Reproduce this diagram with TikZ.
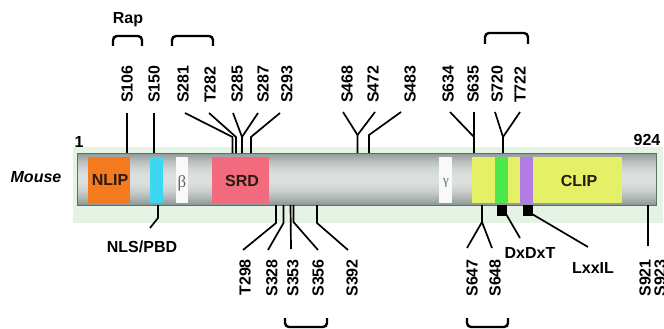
\documentclass[tikz,border=0pt]{standalone}
\usepackage{fontspec}
\setmainfont{Liberation Sans}
\newfontfamily\grkfont{Liberation Serif}
\definecolor{mint}{HTML}{E4F3E4}
\definecolor{barA}{HTML}{8E9896}
\definecolor{barB}{HTML}{DCE0DF}
\definecolor{barEdge}{HTML}{5E706A}
\definecolor{nlipc}{HTML}{F47A1E}
\definecolor{nlsc}{HTML}{3CD8F2}
\definecolor{srdc}{HTML}{F26A7E}
\definecolor{clipc}{HTML}{E4F066}
\definecolor{dxgc}{HTML}{4CE84C}
\definecolor{lxpc}{HTML}{B27EE6}
\definecolor{domtext}{HTML}{2A1A10}
\begin{document}
\begin{tikzpicture}[x=1pt,y=-1pt,
  lbl/.style={font=\fontsize{16}{18}\selectfont\bfseries, inner sep=0pt},
  toplbl/.style={lbl, rotate=90, anchor=west},
  botlbl/.style={lbl, rotate=90, anchor=east},
  lead/.style={line width=1.7pt, line join=miter},
  brk/.style={line width=2.4pt, rounded corners=4pt},
  greek/.style={inner sep=0pt, text=black!60}]
\useasboundingbox (0,0) rectangle (664,329);
% background glow and bar
\fill[mint] (73,147) rectangle (663,223);
\foreach \i in {0,...,51} {
  \pgfmathtruncatemacro\p{100-100*((\i-25.5)/25.5)^2}
  \fill[barB!\p!barA] (77,153+\i) rectangle (656,154.3+\i);
}
\node[draw=barEdge, line width=0.8pt, inner sep=0pt, outer sep=0pt,
      minimum width=579pt, minimum height=52pt] (bar) at (366.5,179) {};
% domains
\fill[nlipc] (88,157) rectangle (130,203);
\fill[nlsc] (150,157) rectangle (163,203);
\fill[white!95!gray] (176,157) rectangle (188,203);
\fill[srdc] (212,157) rectangle (269,203);
\fill[white!95!gray] (439,157) rectangle (452,203);
\fill[clipc] (472,157) rectangle (622,203);
\fill[dxgc] (495,157) rectangle (508,203);
\fill[lxpc] (520,157) rectangle (533,203);
% motif boxes
\fill[black] (497,205) rectangle (507,216);
\fill[black] (523,205) rectangle (533,216);
% domain texts
\node[lbl, text=domtext] (nlipt) at (110,180) {NLIP};
\node[lbl, text=domtext] (srdt) at (242,181) {SRD};
\node[lbl, text=domtext] (clipt) at (579,181) {CLIP};
\node[greek, font=\fontsize{17}{18}\selectfont\grkfont] (betat) at (182,183) {β};
\node[greek, font=\fontsize{13}{14}\selectfont\grkfont] (gammat) at (446,183) {γ};
% side texts
\node[lbl, font=\fontsize{16}{18}\selectfont\bfseries\itshape] (mouse) at (36,177) {Mouse};
\node[lbl] (one) at (79,142) {1};
\node[lbl] (end) at (647,140) {924};
\node[lbl] (rap) at (128,20) {Rap};
% top labels
\node[toplbl] (s106) at (127,103) {S106};
\node[toplbl] (s150) at (154,103) {S150};
\node[toplbl] (s281) at (183,103) {S281};
\node[toplbl] (t282) at (210,103) {T282};
\node[toplbl] (s285) at (237,103) {S285};
\node[toplbl] (s287) at (263,103) {S287};
\node[toplbl] (s293) at (287,103) {S293};
\node[toplbl] (s468) at (347,103) {S468};
\node[toplbl] (s472) at (373,103) {S472};
\node[toplbl] (s483) at (410,103) {S483};
\node[toplbl] (s634) at (448,103) {S634};
\node[toplbl] (s635) at (473,103) {S635};
\node[toplbl] (s720) at (497,103) {S720};
\node[toplbl] (t722) at (520,103) {T722};
% bottom labels
\node[botlbl] (t298) at (245,259) {T298};
\node[botlbl] (s328) at (272,259) {S328};
\node[botlbl] (s353) at (293,259) {S353};
\node[botlbl] (s356) at (318,259) {S356};
\node[botlbl] (s392) at (352,259) {S392};
\node[botlbl] (s647) at (472,259) {S647};
\node[botlbl] (s648) at (495,259) {S648};
\node[botlbl] (s921) at (645,259) {S921};
\node[botlbl] (s923) at (660,259) {S923};
\node[lbl] (nls) at (142,247) {NLS/PBD};
\node[lbl] (dxd) at (530,253) {DxDxT};
\node[lbl] (lxx) at (593,268) {LxxIL};
% top leads
\draw[lead] ([yshift=-10pt]s106.west) -- (127,153);
\draw[lead] ([yshift=-10pt]s150.west) -- (154,153);
\draw[lead] ([yshift=-10pt,xshift=2pt]s281.west) -- (232.5,137) -- (232.5,153);
\draw[lead] ([yshift=-10pt,xshift=-1pt]t282.west) -- (236,137) -- (236,153);
\draw[lead] ([yshift=-10pt,xshift=-4pt]s285.west) -- (242,137) -- (242,153);
\draw[lead] ([yshift=-10pt,xshift=-5pt]s287.west) -- (242,137);
\draw[lead] ([yshift=-10pt,xshift=-7pt]s293.west) -- (251,137) -- (251,153);
\draw[lead] ([yshift=-9pt,xshift=-4pt]s468.west) -- (357.5,135) -- (357.5,153);
\draw[lead] ([yshift=-9pt,xshift=2pt]s472.west) -- (357.5,135);
\draw[lead] ([yshift=-9pt,xshift=-9pt]s483.west) -- (369,135) -- (369,153);
\draw[lead] ([yshift=-9pt,xshift=2pt]s634.west) -- (474,137);
\draw[lead] ([yshift=-9pt,xshift=1pt]s635.west) -- (474,153);
\draw[lead] ([yshift=-9pt,xshift=-2pt]s720.west) -- (503,137);
\draw[lead] ([yshift=-9pt]t722.west) -- (503,137) -- (503,153);
% bottom leads
\draw[lead] (276,205) -- (276,223) -- ([yshift=9pt,xshift=-2pt]t298.east);
\draw[lead] (283.5,205) -- (283.5,223) -- ([yshift=9pt,xshift=-4pt]s328.east);
\draw[lead] (290.5,205) -- ([yshift=10pt,xshift=-2pt]s353.east);
\draw[lead] (293.5,205) -- (293.5,222) -- ([yshift=9pt]s356.east);
\draw[lead] (317,205) -- (317,223) -- ([yshift=9pt,xshift=-4pt]s392.east);
\draw[lead] (482,205) -- (482,222) -- ([yshift=11pt,xshift=-5pt]s647.east);
\draw[lead] (482,222) -- ([yshift=11pt,xshift=-3pt]s648.east);
\draw[lead] (648,205) -- ([yshift=13pt,xshift=3pt]s921.east);
\draw[lead] (158,205) -- (158,218) -- ([yshift=19pt,xshift=8pt]nls.center);
\draw[lead] (506,214) -- ([yshift=15pt,xshift=-10pt]dxd.center);
\draw[lead] (532,214) -- ([yshift=21pt,xshift=-5pt]lxx.center);
% brackets
\draw[brk] (113,46) -- (113,36) -- (142,36) -- (142,46);
\draw[brk] (172,46) -- (172,36) -- (213,36) -- (213,46);
\draw[brk] (485,44) -- (485,33) -- (528,33) -- (528,44);
\draw[brk] (285,318) -- (285,327) -- (327,327) -- (327,318);
\draw[brk] (467,318) -- (467,327) -- (508,327) -- (508,318);
\end{tikzpicture}
\end{document}
